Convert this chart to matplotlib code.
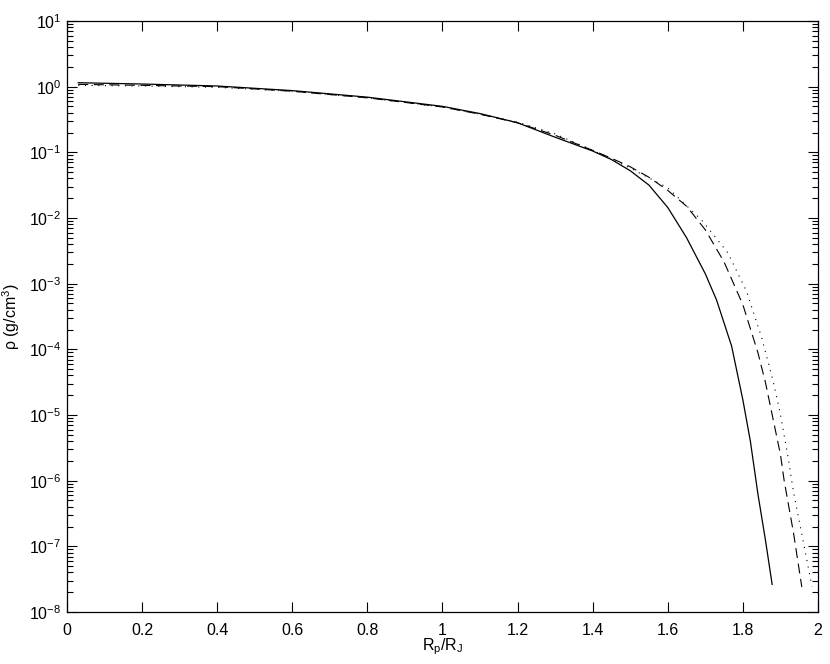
import matplotlib
matplotlib.use("Agg")
import matplotlib.pyplot as plt
import numpy as np
from matplotlib.ticker import LogLocator, NullFormatter, MultipleLocator, FuncFormatter

plt.rcParams["font.family"] = ["Liberation Sans", "DejaVu Sans"]
plt.rcParams["mathtext.fontset"] = "custom"
plt.rcParams["mathtext.rm"] = "Liberation Sans"
plt.rcParams["mathtext.it"] = "Liberation Sans:italic"

# radius in Jupiter radii, log10 of density (g/cm^3)
x_solid = [0.03, 0.2, 0.4, 0.6, 0.8, 1.0, 1.1, 1.2, 1.3, 1.4, 1.45, 1.5, 1.55,
           1.6, 1.65, 1.7, 1.73, 1.77, 1.8, 1.82, 1.84, 1.86, 1.878]
log_solid = [0.06, 0.04, 0.01, -0.06, -0.16, -0.30, -0.41, -0.55, -0.77, -0.98,
             -1.11, -1.28, -1.50, -1.84, -2.30, -2.85, -3.25, -3.95, -4.77,
             -5.40, -6.20, -6.90, -7.58]

x_dashed = [0.03, 0.2, 0.4, 0.6, 0.8, 1.0, 1.1, 1.2, 1.3, 1.4, 1.45, 1.5, 1.55,
            1.6, 1.65, 1.7, 1.75, 1.8, 1.84, 1.86, 1.88, 1.9, 1.91, 1.935, 1.957]
log_dashed = [0.035, 0.02, 0.0, -0.07, -0.17, -0.31, -0.42, -0.55, -0.74, -0.97,
              -1.09, -1.22, -1.38, -1.58, -1.82, -2.18, -2.67, -3.32, -4.05,
              -4.50, -5.05, -5.60, -6.00, -6.80, -7.62]

x_dotted = [0.03, 0.2, 0.4, 0.6, 0.8, 1.0, 1.1, 1.2, 1.3, 1.4, 1.5, 1.6, 1.69,
            1.76, 1.81, 1.85, 1.88, 1.9, 1.92, 1.935, 1.96, 1.984]
log_dotted = [0.02, 0.01, -0.01, -0.07, -0.17, -0.31, -0.42, -0.54, -0.72, -0.97,
              -1.24, -1.54, -2.03, -2.53, -3.12, -3.82, -4.47, -4.99, -5.63,
              -6.18, -6.90, -7.61]

fig = plt.figure(figsize=(8.3, 6.64), dpi=100)
ax = fig.add_axes([0.0807, 0.0783, 0.9048, 0.8901])

ax.plot(x_solid, 10.0 ** np.array(log_solid), color="black", linewidth=0.9)
ax.plot(x_dashed, 10.0 ** np.array(log_dashed), color="black", linewidth=0.8,
        dashes=(9, 5))
ax.plot(x_dotted, 10.0 ** np.array(log_dotted), color="black", linewidth=0.8,
        dashes=(1, 5))

ax.set_yscale("log")
ax.set_xlim(0, 2)
ax.set_ylim(1e-8, 1e1)
ax.xaxis.set_major_locator(MultipleLocator(0.2))
ax.xaxis.set_major_formatter(FuncFormatter(lambda v, pos: f"{v:g}"))
ax.yaxis.set_major_locator(LogLocator(base=10, numticks=20))
ax.yaxis.set_minor_locator(LogLocator(base=10, subs=np.arange(2, 10), numticks=20))
ax.yaxis.set_minor_formatter(NullFormatter())

ax.tick_params(which="both", direction="in", top=True, right=True,
               labelsize=11.5, width=0.8)
ax.tick_params(which="major", length=7)
ax.tick_params(which="minor", length=4)
ax.tick_params(axis="x", which="major", pad=8)
ax.tick_params(axis="y", which="major", pad=4)
for spine in ax.spines.values():
    spine.set_linewidth(0.9)

ax.set_xlabel(r"R$_\mathregular{p}$/R$_\mathregular{J}$", fontsize=11.5)
ax.set_ylabel(r"ρ (g/cm$^\mathregular{3}$)", fontsize=11.5)
ax.xaxis.set_label_coords(0.5, -0.042)
ax.yaxis.set_label_coords(-0.06, 0.5)

fig.savefig("out.png", dpi=100)
